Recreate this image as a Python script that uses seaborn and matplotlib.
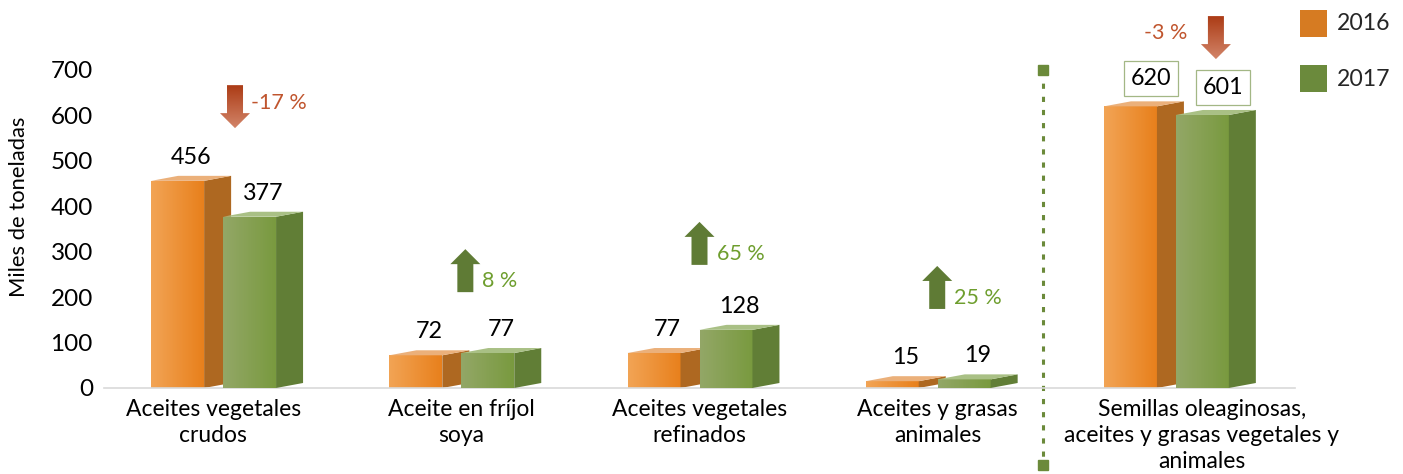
import numpy as np
import pandas as pd
import seaborn as sns
import matplotlib.pyplot as plt
from matplotlib.patches import Polygon, Rectangle
from matplotlib.colors import LinearSegmentedColormap
from matplotlib.transforms import ScaledTranslation

# data
categorias = ["Aceites vegetales\ncrudos", "Aceite en fríjol\nsoya",
              "Aceites vegetales\nrefinados", "Aceites y grasas\nanimales",
              "Semillas oleaginosas,\naceites y grasas vegetales y\nanimales"]
anios = ["2016", "2017"]
v2016 = [456, 72, 77, 15, 620]
v2017 = [377, 77, 128, 19, 601]
variacion = ["-17 %", "8 %", "65 %", "25 %", "-3 %"]

# annotation layout (arrow x shift, arrow base in data units)
flecha_dx = [0.05, 0.017, 0.0, -0.002, 0.168]
flecha_base = [572, 211, 271, 174, 724]

sns.set_theme(style="white")
plt.rcParams['font.family'] = ['Lato', 'DejaVu Sans']

df = pd.DataFrame({
    'categoria': categorias * 2,
    'anio': [anios[0]] * 5 + [anios[1]] * 5,
    'valor': v2016 + v2017,
})

fig = plt.figure(figsize=(14.03, 4.74), dpi=100)
ax = fig.add_axes([104 / 1403, 86 / 474, 1191 / 1403, 318 / 474])

sns.barplot(data=df, x='categoria', y='valor', hue='anio', width=0.604,
            palette=['#E98220', '#7C9A40'], saturation=1, legend=False, ax=ax)
ax.set_xlim(-0.5, 4.5)
ax.set_ylim(0, 700)

# pixel -> data factors
p0 = ax.transData.transform((0, 0))
p1 = ax.transData.transform((1, 1))
sx = 1 / (p1[0] - p0[0])
sy = 1 / (p1[1] - p0[1])

estilos = [
    dict(front=['#F2A455', '#E8801C'], side='#AE6821', top='#EBB07A'),
    dict(front=['#93A767', '#799A3F'], side='#617E36', top='#A9C085'),
]
dx, dy = 27 * sx, 5 * sy
frac = 53 / 72

for i, cont in enumerate(ax.containers):
    st = estilos[i]
    cmap = LinearSegmentedColormap.from_list('g%d' % i, st['front'])
    z = 2 + 3 * i
    for j, bar in enumerate(cont.patches):
        x0 = bar.get_x()
        w = bar.get_width() * frac
        h = bar.get_height()
        bar.set_width(w)
        bar.set_zorder(z)
        bar.set_edgecolor('none')
        grad = np.linspace(0, 1, 64).reshape(1, -1)
        im = ax.imshow(grad, extent=[x0, x0 + w, 0, h], aspect='auto',
                       cmap=cmap, zorder=z + 0.1)
        im.set_clip_path(bar)
        ax.add_patch(Polygon([(x0 + w, 0), (x0 + w + dx, dy), (x0 + w + dx, h + dy), (x0 + w, h)],
                             closed=True, facecolor=st['side'], edgecolor='none', zorder=z + 0.2))
        ax.add_patch(Polygon([(x0, h), (x0 + w, h), (x0 + w + dx, h + dy), (x0 + dx, h + dy)],
                             closed=True, facecolor=st['top'], edgecolor='none', zorder=z + 0.2))
        caja = None
        xoff, yoff = 0, 17
        if j == 4:
            caja = dict(boxstyle='square,pad=0.3', facecolor='white', edgecolor='#A3B785', lw=0.9)
            xoff, yoff = 5, 20
        ax.annotate(str(int(h)), (x0 + (w + dx) / 2, h), xytext=(xoff, yoff),
                    textcoords='offset points', ha='center', va='center',
                    fontsize=16.8, color='black', bbox=caja, annotation_clip=False, zorder=10)

ax.set_xlim(-0.5, 4.5)
ax.set_ylim(0, 700)

# change arrows
for k, txt in enumerate(variacion):
    xc = k + flecha_dx[k]
    yb = flecha_base[k]
    baja = txt.startswith('-')
    if baja:
        rel = [(-8, 43), (8, 43), (8, 15), (15, 15), (0, 0), (-15, 15), (-8, 15)]
    else:
        rel = [(-8, 0), (8, 0), (8, 28), (15, 28), (0, 43), (-15, 28), (-8, 28)]
    pts = [(xc + a * sx, yb + b * sy) for a, b in rel]
    if baja:
        poly = Polygon(pts, closed=True, facecolor='none', edgecolor='none', clip_on=False)
        ax.add_patch(poly)
        cm = LinearSegmentedColormap.from_list('dn', ['#AC3C16', '#D28468'])
        im = ax.imshow(np.linspace(0, 1, 64).reshape(-1, 1),
                       extent=[xc - 15 * sx, xc + 15 * sx, yb, yb + 43 * sy],
                       aspect='auto', cmap=cm, zorder=9, origin='upper')
        im.set_clip_box(fig.bbox)
        im.set_clip_path(poly)
        color_t = '#C0552E'
        if k == 4:
            ax.annotate(txt, (xc - 15 * sx, yb + 26 * sy), xytext=(-10, 0),
                        textcoords='offset points', ha='right', va='center',
                        fontsize=15.5, color=color_t, annotation_clip=False)
        else:
            ax.annotate(txt, (xc + 15 * sx, yb + 25 * sy), xytext=(1, 0),
                        textcoords='offset points', ha='left', va='center',
                        fontsize=15.5, color=color_t, annotation_clip=False)
    else:
        ax.add_patch(Polygon(pts, closed=True, facecolor='#5F7B35', edgecolor='none',
                             zorder=9, clip_on=False))
        ax.annotate(txt, (xc + 15 * sx, yb + 11 * sy), xytext=(1.5, 0),
                    textcoords='offset points', ha='left', va='center',
                    fontsize=15.5, color='#6E9E2E', annotation_clip=False)

ax.set_xlim(-0.5, 4.5)
ax.set_ylim(0, 700)

# separator line
xs = 3.44
ax.plot([xs, xs], [700, -170], color='#6B8A3A', lw=2.2, ls=(0, (1.7, 2.6)),
        marker='s', ms=7, clip_on=False, zorder=1)

# axes styling
sns.despine(ax=ax, left=True)
ax.spines['bottom'].set_color('#D9D9D9')
ax.spines['bottom'].set_linewidth(1.2)
ax.set_yticks(range(0, 701, 100))
ax.tick_params(axis='y', length=0, pad=8, labelsize=17.5, labelcolor='black')
ax.tick_params(axis='x', length=0, pad=8, labelsize=16.5, labelcolor='black')
ax.set_xlabel('')
ax.set_ylabel('Miles de toneladas', fontsize=15.8, color='black')
ax.yaxis.set_label_coords(-0.063, 0.57)

for lab, desp in zip(ax.get_xticklabels(), [-10, 0, 0, 0, 26]):
    lab.set_linespacing(1.3)
    lab.set_transform(lab.get_transform() + ScaledTranslation(desp / 100, 0, fig.dpi_scale_trans))

# legend
for y_px, col, lbl in [(10, '#D67B22', '2016'), (65, '#6B8A3C', '2017')]:
    fig.add_artist(Rectangle((1300 / 1403, (474 - y_px - 27) / 474), 27 / 1403, 27 / 474,
                             transform=fig.transFigure, facecolor=col, edgecolor='none'))
    fig.text(1337 / 1403, (474 - y_px - 14) / 474, lbl, fontsize=16.6, va='center', ha='left')

fig.savefig('out.png', dpi=100)
